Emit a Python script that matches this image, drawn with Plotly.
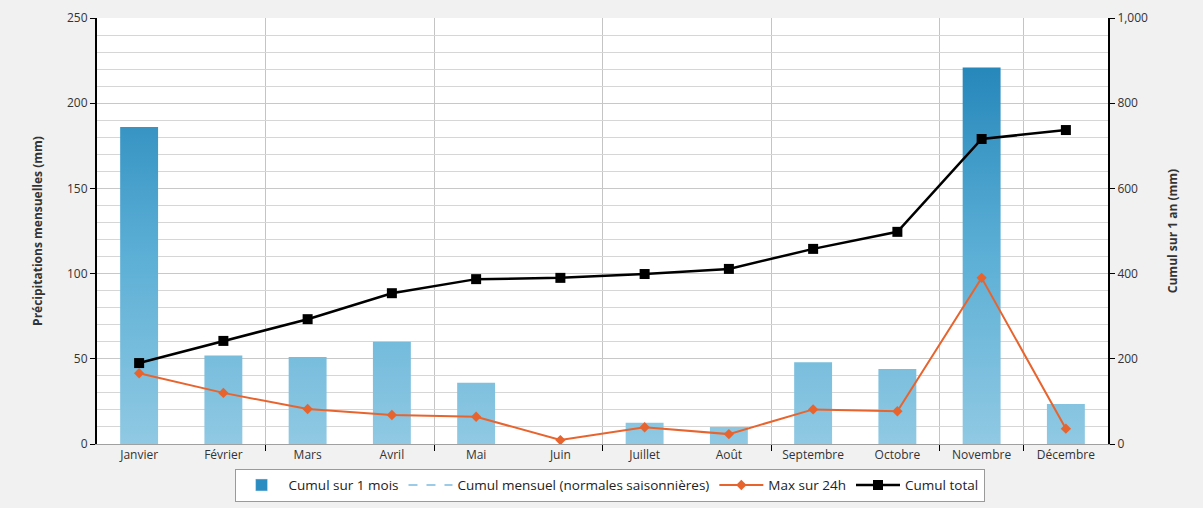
import plotly.graph_objects as go

months = ["Janvier", "Février", "Mars", "Avril", "Mai", "Juin",
          "Juillet", "Août", "Septembre", "Octobre", "Novembre", "Décembre"]
cumul_mois = [186, 52, 51, 60, 36, 0, 12.5, 10, 48, 44, 221, 23.5]      # mm
max_24h = [41.5, 30, 20.5, 17, 16, 2.3, 9.8, 5.8, 20.3, 19.2, 97.5, 9]  # mm
cumul_total = [190, 242, 293, 354, 387, 390, 399, 411, 458, 498, 716, 737]  # mm

xs = list(range(len(months)))
half_w = 0.225

# Bars as closed polygons on the value axis so they can carry a vertical gradient
bx, by = [], []
for i, v in zip(xs, cumul_mois):
    bx += [i - half_w, i - half_w, i + half_w, i + half_w, i - half_w, None]
    by += [0, v, v, 0, 0, None]

fig = go.Figure()
fig.add_trace(go.Scatter(
    x=bx, y=by, mode="lines", line=dict(width=0), fill="toself",
    fillgradient=dict(type="vertical", start=0, stop=230,
                      colorscale=[[0, "#90c9e3"], [0.5, "#5aaed5"], [1, "#2284b8"]]),
    name="Cumul sur 1 mois", hoverinfo="skip", showlegend=False,
    legendgroup="mois",
))
# Legend swatch for the monthly bars
fig.add_trace(go.Bar(
    x=[None], y=[None], marker=dict(color="#2a8cc0"),
    name="Cumul sur 1 mois", legendgroup="mois",
))
fig.add_trace(go.Scatter(
    x=[None], y=[None], mode="lines",
    line=dict(color="#9ccbe8", width=2, dash="dash"),
    name="Cumul mensuel (normales saisonnières)",
))
fig.add_trace(go.Scatter(
    x=xs, y=max_24h, mode="lines+markers",
    line=dict(color="#e8642e", width=2),
    marker=dict(symbol="diamond", size=8, color="#e8642e"),
    name="Max sur 24h",
))
fig.add_trace(go.Scatter(
    x=xs, y=cumul_total, mode="lines+markers", yaxis="y2",
    line=dict(color="#000000", width=2.5),
    marker=dict(symbol="square", size=10, color="#000000"),
    name="Cumul total",
))

font = "Open Sans, DejaVu Sans, sans-serif"
fig.update_layout(
    width=1203, height=508,
    margin=dict(l=97, r=95, t=18, b=64, autoexpand=False),
    paper_bgcolor="#f1f1f1",
    plot_bgcolor="#ffffff",
    font=dict(family=font, size=12, color="#333333"),
    showlegend=True,
    legend=dict(
        orientation="h", x=0.507, xanchor="center", y=-0.058, yanchor="top",
        bgcolor="#ffffff", bordercolor="#9a9a9a", borderwidth=1,
        font=dict(size=13.5, color="#222222"), itemwidth=44,
    ),
    xaxis=dict(
        range=[-0.5, 11.5], tickvals=xs, ticktext=months, ticks="",
        showgrid=False, zeroline=False,
        showline=True, linecolor="#a0a0a0", linewidth=1,
        tickfont=dict(size=12, color="#333333"),
        minor=dict(tickvals=[1.5, 3.5, 5.5, 7.5, 9.5, 10.5], ticks="outside",
                   ticklen=6, tickcolor="#000000", showgrid=True,
                   gridcolor="#c4c4c4", gridwidth=1),
    ),
    yaxis=dict(
        range=[0, 250], dtick=50, ticks="outside", ticklen=5, tickcolor="#000000",
        showline=True, linecolor="#000000", linewidth=2,
        showgrid=True, gridcolor="#c8c8c8", zeroline=False,
        minor=dict(dtick=10, showgrid=True, gridcolor="#d6d6d6"),
        title=dict(text="<b>Précipitations mensuelles (mm)</b>",
                   font=dict(size=12, color="#333333"), standoff=22),
    ),
    yaxis2=dict(
        range=[0, 1000], dtick=200, overlaying="y", side="right",
        ticks="outside", ticklen=5, tickcolor="#000000", tickformat=",",
        showline=True, linecolor="#000000", linewidth=2,
        showgrid=False, zeroline=False,
        title=dict(text="<b>Cumul sur 1 an (mm)</b>",
                   font=dict(size=12, color="#333333"), standoff=22),
    ),
)

fig.write_html("out.html")
